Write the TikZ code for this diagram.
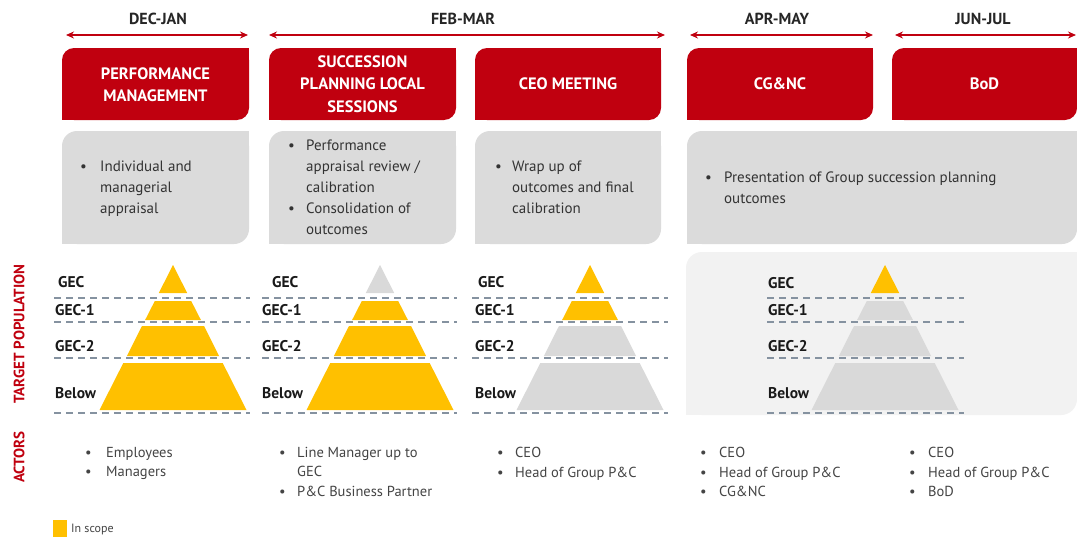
\documentclass[tikz,border=0pt]{standalone}
\usepackage{fontspec}
\setmainfont{PT Sans}
\usetikzlibrary{arrows.meta}
\definecolor{hpred}{HTML}{C0000F}
\definecolor{hpyel}{HTML}{FFC000}
\definecolor{boxgray}{HTML}{DBDBDB}
\definecolor{panelgray}{HTML}{F2F2F2}
\definecolor{pyrgray}{HTML}{D9D9D9}
\definecolor{dashgray}{HTML}{8592A0}
\definecolor{txtdark}{HTML}{333333}
\definecolor{txtact}{HTML}{444444}
\newcommand\mybul[1]{\makebox[#1][l]{\textbullet}}
\newcommand\myind[1]{\hspace*{#1}}
% x1 y1 x2 y2 colour radius : rounded top-left and bottom-right corners
\newcommand\cornerbox[6]{%
  \fill[#5,rounded corners=#6pt] (#1,#2) rectangle (#3,#4);
  \fill[#5] ({#3-#6},#2) rectangle (#3,{#2+#6});
  \fill[#5] (#1,{#4-#6}) rectangle ({#1+#6},#4);
}
% centre x, colours of the four tiers
\newcommand\pyramid[5]{%
  \fill[#2] (#1,265) -- ({#1+14.2},293) -- ({#1-14.2},293) -- cycle;
  \fill[#3] ({#1-18.2},301) -- ({#1+18.2},301) -- ({#1+27.9},320) -- ({#1-27.9},320) -- cycle;
  \fill[#4] ({#1-31},326) -- ({#1+31},326) -- ({#1+46.1},356) -- ({#1-46.1},356) -- cycle;
  \fill[#5] ({#1-49.7},363) -- ({#1+49.7},363) -- ({#1+73.5},410) -- ({#1-73.5},410) -- cycle;
}
\newcommand\dashrows[2]{%
  \foreach \yy in {298,322,358,413} \draw[dashline] (#1,\yy) -- (#2,\yy);
}
\tikzset{
  redtxt/.style={text=white,font=\fontsize{16.5}{22.5}\selectfont\bfseries,align=center,inner sep=0},
  period/.style={font=\fontsize{16}{18}\selectfont\bfseries,text=black!85,inner sep=0},
  span/.style={draw=hpred,line width=1.3pt,{Stealth[length=8pt,width=7pt]}-{Stealth[length=8pt,width=7pt]}},
  graytxt/.style={font=\fontsize{15}{21}\selectfont,text=txtdark,align=left,anchor=north west,inner sep=0},
  actxt/.style={font=\fontsize{14.5}{19.5}\selectfont,text=txtact,align=left,anchor=north west,inner sep=0},
  tier/.style={font=\fontsize{15.5}{17}\selectfont\bfseries,text=black!90,anchor=west,inner sep=0},
  dashline/.style={draw=dashgray,line width=1.4pt,dash pattern=on 7pt off 5pt},
  sidelabel/.style={font=\fontsize{15}{17}\selectfont\bfseries,text=hpred,rotate=90,inner sep=0},
}
\begin{document}
\begin{tikzpicture}[x=1pt,y=-1pt]
\useasboundingbox (0,0) rectangle (1077,538);
\fill[white] (0,0) rectangle (1077,538);

% period labels and spans
\node[period] (p1) at (158,19) {DEC-JAN};
\node[period] (p2) at (463,19) {FEB-MAR};
\node[period] (p3) at (777,19) {APR-MAY};
\node[period] (p4) at (983,19) {JUN-JUL};
\coordinate (a1l) at (66,35);  \coordinate (a1r) at (248,35);
\coordinate (a2l) at (269,35); \coordinate (a2r) at (665,35);
\coordinate (a3l) at (690,35); \coordinate (a3r) at (873,35);
\coordinate (a4l) at (895,35); \coordinate (a4r) at (1076,35);
\draw[span] (a1l) -- (a1r);
\draw[span] (a2l) -- (a2r);
\draw[span] (a3l) -- (a3r);
\draw[span] (a4l) -- (a4r);

% red phase boxes
\cornerbox{62}{48}{249}{120}{hpred}{12}
\cornerbox{269}{48}{456}{120}{hpred}{12}
\cornerbox{475}{48}{661}{120}{hpred}{12}
\cornerbox{687}{48}{873}{120}{hpred}{12}
\cornerbox{892}{48}{1077}{120}{hpred}{12}
\node[redtxt] (r1) at (155.5,84.5) {PERFORMANCE\\MANAGEMENT};
\node[redtxt] (r2) at (362.5,84) {SUCCESSION\\PLANNING LOCAL\\SESSIONS};
\node[redtxt] (r3) at (568,84) {CEO MEETING};
\node[redtxt] (r4) at (780,84) {CG\&NC};
\node[redtxt] (r5) at (984.5,84) {BoD};

% grey description boxes
\cornerbox{62}{131}{249}{244}{boxgray}{15}
\cornerbox{269}{131}{456}{244}{boxgray}{15}
\cornerbox{475}{131}{661}{244}{boxgray}{15}
\cornerbox{687}{131}{1077}{244}{boxgray}{15}
\node[graytxt] (g1) at (80,161) {\mybul{20pt}Individual and\\\myind{20pt}managerial\\\myind{20pt}appraisal};
\node[graytxt] (g2) at (288,140) {\mybul{18pt}Performance\\\myind{18pt}appraisal review /\\\myind{18pt}calibration\\\mybul{18pt}Consolidation of\\\myind{18pt}outcomes};
\node[graytxt] (g3) at (495,161) {\mybul{17pt}Wrap up of\\\myind{17pt}outcomes and final\\\myind{17pt}calibration};
\node[graytxt] (g4) at (705,172) {\mybul{19pt}Presentation of Group succession planning\\\myind{19pt}outcomes};

% light panel behind the last pyramid
\cornerbox{686}{252}{1077}{415}{panelgray}{16}

% pyramids
\pyramid{173}{hpyel}{hpyel}{hpyel}{hpyel}
\pyramid{380}{pyrgray}{hpyel}{hpyel}{hpyel}
\pyramid{590}{hpyel}{hpyel}{pyrgray}{pyrgray}
\pyramid{885}{hpyel}{pyrgray}{pyrgray}{pyrgray}
\dashrows{54}{250}
\dashrows{262}{457}
\dashrows{472}{668}
\dashrows{767}{964}

% tier labels
\node[tier] (t1a) at (58,282) {GEC};
\node[tier] (t1b) at (55,310.5) {GEC-1};
\node[tier] (t1c) at (55,346) {GEC-2};
\node[tier] (t1d) at (55,393) {Below};
\node[tier] (t2a) at (272,282) {GEC};
\node[tier] (t2b) at (262,310.5) {GEC-1};
\node[tier] (t2c) at (262,346) {GEC-2};
\node[tier] (t2d) at (262,393) {Below};
\node[tier] (t3a) at (478,282) {GEC};
\node[tier] (t3b) at (475,310.5) {GEC-1};
\node[tier] (t3c) at (475,346) {GEC-2};
\node[tier] (t3d) at (475,393) {Below};
\node[tier] (t4a) at (768,283) {GEC};
\node[tier] (t4b) at (768,310.5) {GEC-1};
\node[tier] (t4c) at (768,346) {GEC-2};
\node[tier] (t4d) at (768,393) {Below};

% side labels
\node[sidelabel] (tp) at (19,334) {TARGET POPULATION};
\node[sidelabel] (ac) at (19,457) {ACTORS};

% actors
\node[actxt] (c1) at (85,447) {\mybul{21pt}Employees\\\mybul{21pt}Managers};
\node[actxt] (c2) at (279,447) {\mybul{18pt}Line Manager up to\\\myind{18pt}GEC\\\mybul{18pt}P\&C Business Partner};
\node[actxt] (c3) at (497,447) {\mybul{18pt}CEO\\\mybul{18pt}Head of Group P\&C};
\node[actxt] (c4) at (700,447) {\mybul{19pt}CEO\\\mybul{19pt}Head of Group P\&C\\\mybul{19pt}CG\&NC};
\node[actxt] (c5) at (909,447) {\mybul{19pt}CEO\\\mybul{19pt}Head of Group P\&C\\\mybul{19pt}BoD};

% legend
\fill[hpyel] (53,520) rectangle (67,537);
\node[font=\fontsize{12}{14}\selectfont,text=txtact,anchor=west,inner sep=0] (leg) at (71,529) {In scope};
\end{tikzpicture}
\end{document}
